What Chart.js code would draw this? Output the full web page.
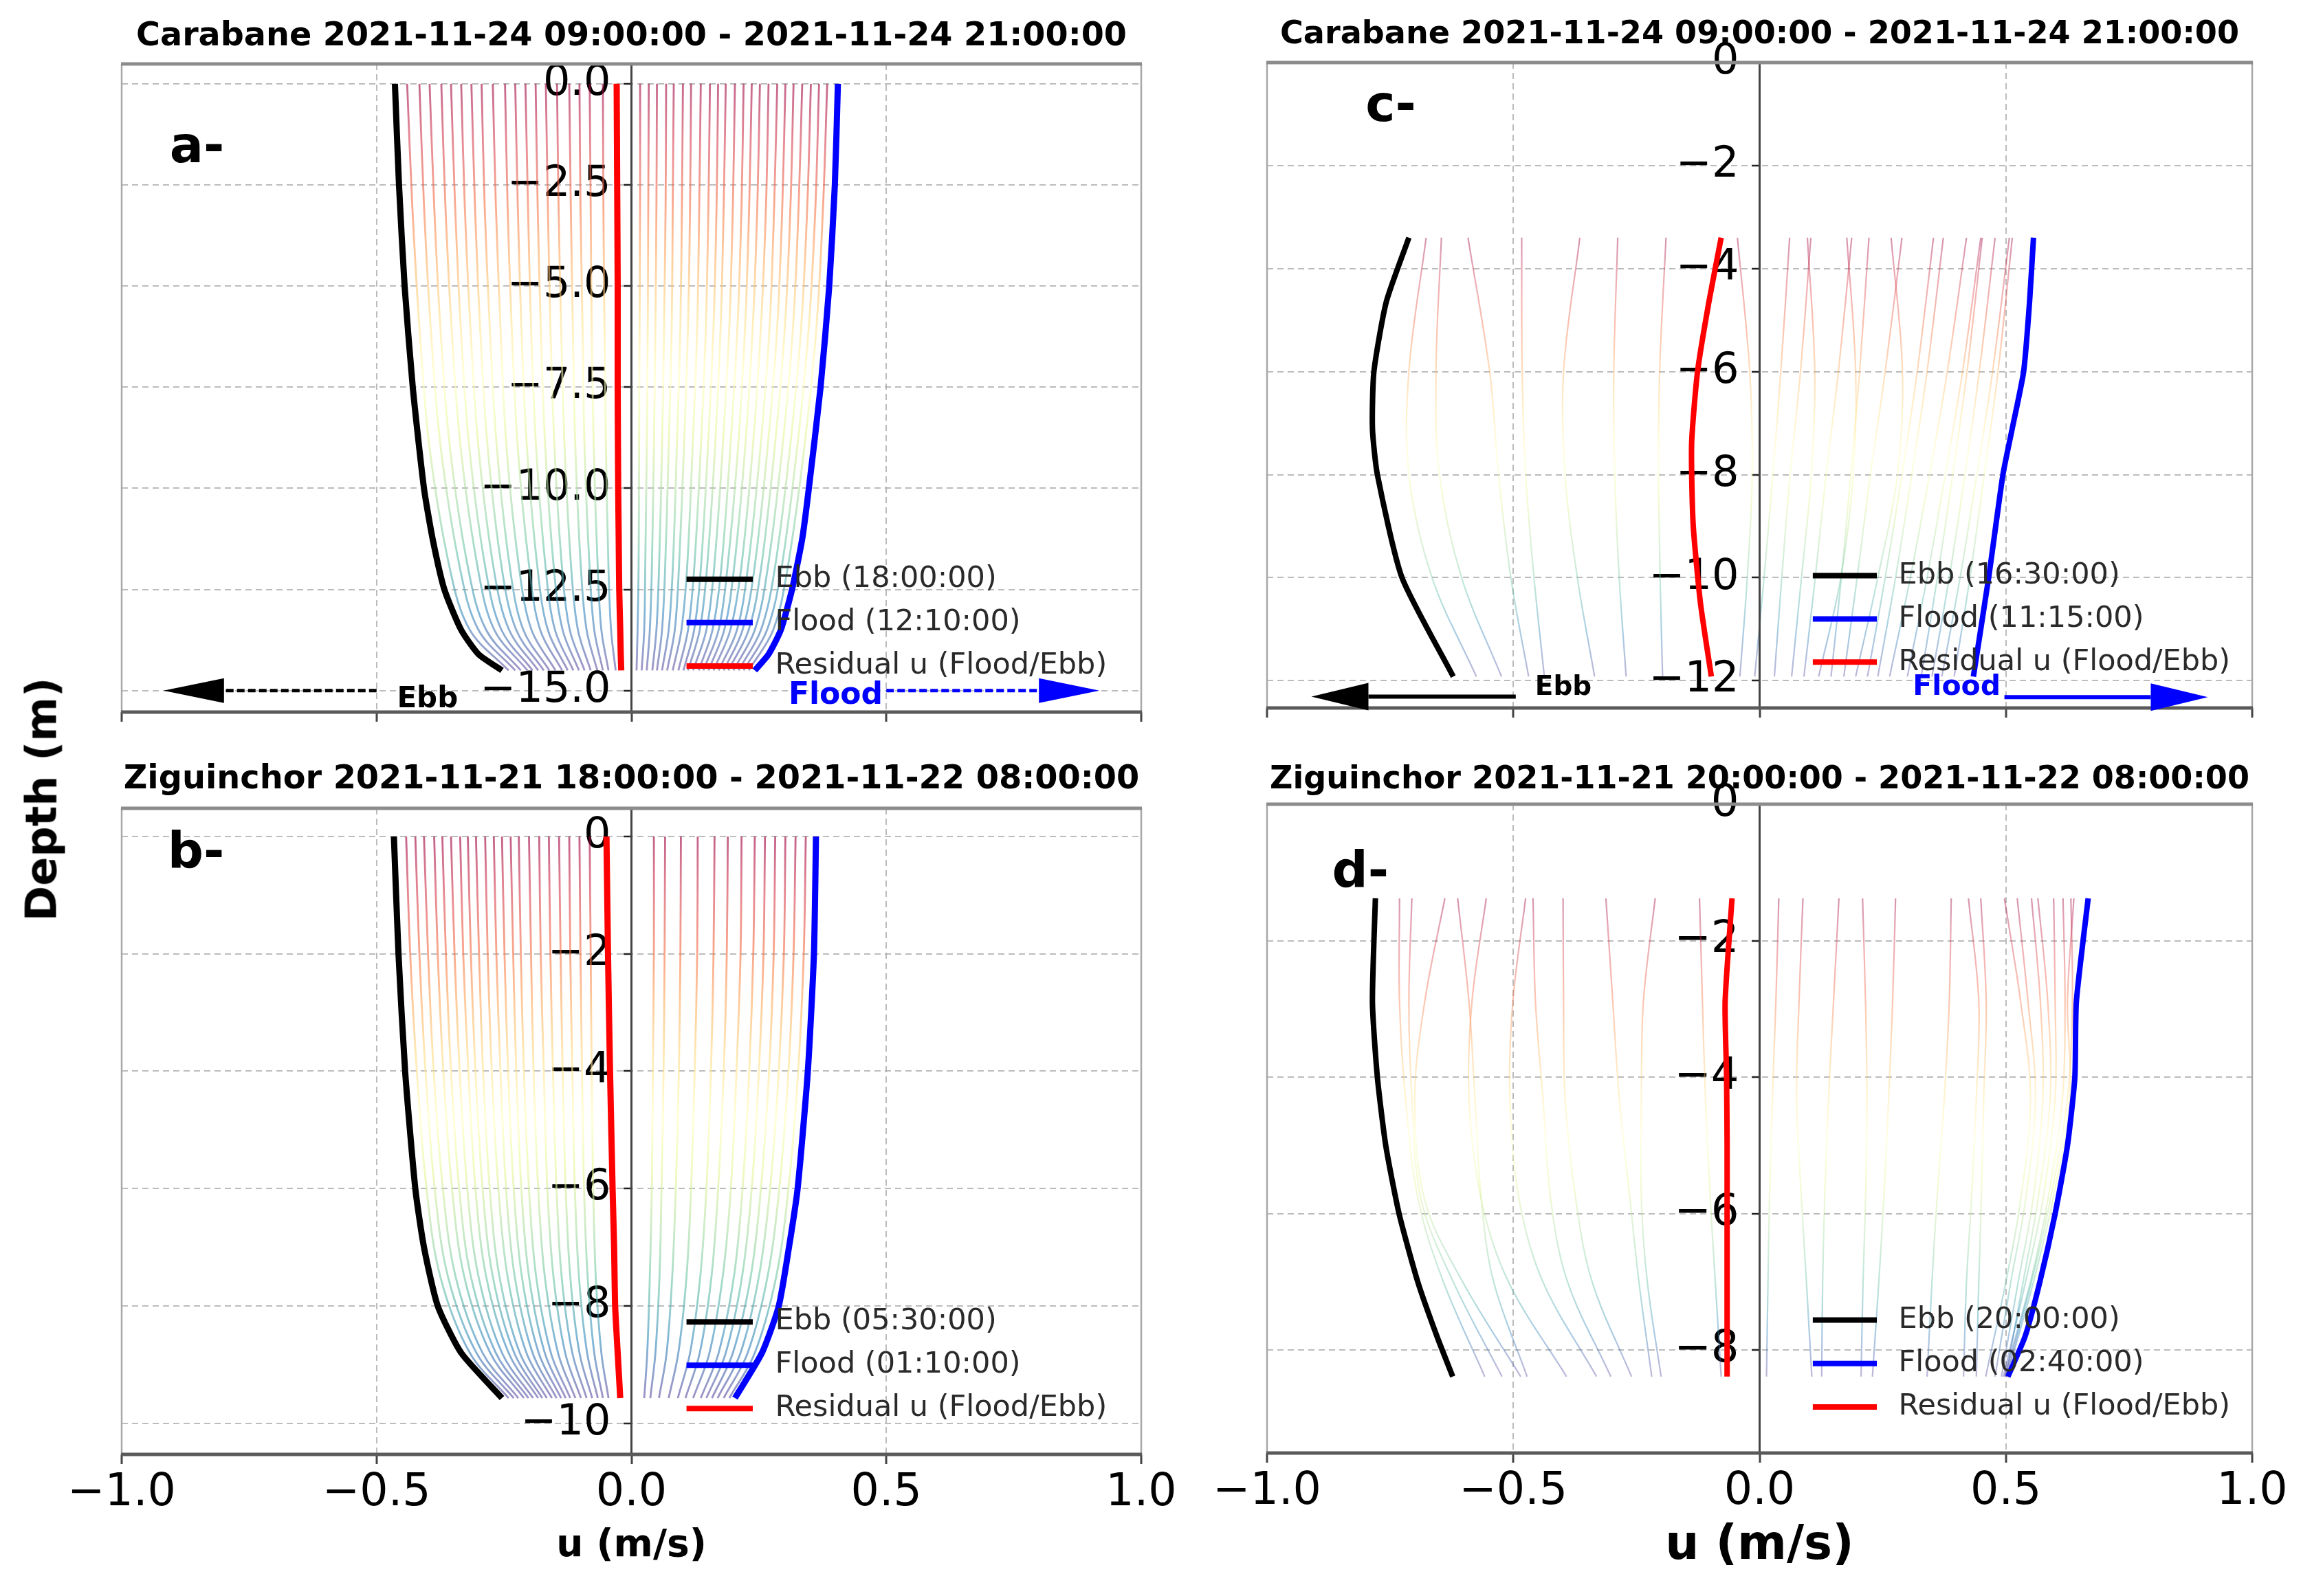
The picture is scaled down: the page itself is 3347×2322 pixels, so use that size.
<!DOCTYPE html>
<html>
<head>
<meta charset="utf-8">
<script src="https://cdn.jsdelivr.net/npm/chart.js@4.4.0/dist/chart.umd.min.js"></script>
<style>
html,body{margin:0;padding:0;background:#fff;}
body{width:3347px;height:2322px;position:relative;overflow:hidden;font-family:"DejaVu Sans";}
canvas{position:absolute;}
#ylab{position:absolute;left:60px;top:1163px;transform:translate(-50%,-50%) rotate(-90deg);font:bold 62px "DejaVu Sans";white-space:nowrap;color:#000;z-index:5;}
</style>
</head>
<body>
<canvas id="ca" width="1760" height="1080" style="left:0px;top:0px"></canvas>
<canvas id="cb" width="1760" height="1242" style="left:0px;top:1080px"></canvas>
<canvas id="cc" width="1587" height="1080" style="left:1760px;top:0px"></canvas>
<canvas id="cd" width="1587" height="1242" style="left:1760px;top:1080px"></canvas>
<div id="ylab">Depth (m)</div>
<script>
// ================= DATA =================
const xTicks = [-1, -0.5, 0, 0.5, 1];
const xTickLabels = ['\u22121.0', '\u22120.5', '0.0', '0.5', '1.0'];
const xAxisTitle = 'u (m/s)';

// ---------- panel a : Carabane ----------
const aTitle = 'Carabane 2021-11-24 09:00:00 - 2021-11-24 21:00:00';
const aLetter = 'a-';
const aLegend = ['Ebb (18:00:00)', 'Flood (12:10:00)', 'Residual u (Flood/Ebb)'];
const aYTicks = [0, -2.5, -5, -7.5, -10, -12.5, -15];
const aYTickLabels = ['0.0', '\u22122.5', '\u22125.0', '\u22127.5', '\u221210.0', '\u221212.5', '\u221215.0'];
const aMainDepth = [0, -2.5, -5, -7.5, -10, -11.25, -12.5, -13.5, -14.1, -14.5];
const aEbb      = [-0.464, -0.456, -0.445, -0.429, -0.407, -0.390, -0.367, -0.334, -0.300, -0.254];
const aFlood    = [0.405, 0.399, 0.388, 0.371, 0.348, 0.335, 0.315, 0.293, 0.269, 0.242];
const aResidual = [-0.029, -0.028, -0.027, -0.027, -0.026, -0.025, -0.024, -0.022, -0.021, -0.020];
const aProfileDepth = [0, -3, -6, -9, -12, -13.5, -14.5];
const aProfiles = [
  [-0.440, -0.430, -0.416, -0.396, -0.356, -0.317, -0.241],
  [-0.416, -0.407, -0.394, -0.374, -0.336, -0.300, -0.228],
  [-0.396, -0.387, -0.375, -0.356, -0.320, -0.285, -0.217],
  [-0.373, -0.365, -0.353, -0.335, -0.301, -0.269, -0.204],
  [-0.354, -0.346, -0.335, -0.318, -0.286, -0.255, -0.194],
  [-0.334, -0.327, -0.316, -0.300, -0.270, -0.240, -0.183],
  [-0.314, -0.307, -0.297, -0.282, -0.254, -0.226, -0.172],
  [-0.294, -0.288, -0.278, -0.264, -0.238, -0.212, -0.161],
  [-0.272, -0.266, -0.257, -0.245, -0.220, -0.196, -0.149],
  [-0.248, -0.243, -0.235, -0.223, -0.200, -0.179, -0.136],
  [-0.228, -0.223, -0.216, -0.205, -0.184, -0.164, -0.125],
  [-0.208, -0.203, -0.197, -0.187, -0.168, -0.150, -0.114],
  [-0.188, -0.184, -0.178, -0.169, -0.152, -0.135, -0.103],
  [-0.168, -0.164, -0.159, -0.151, -0.136, -0.121, -0.092],
  [-0.146, -0.143, -0.138, -0.131, -0.118, -0.105, -0.080],
  [-0.122, -0.119, -0.115, -0.110, -0.099, -0.088, -0.067],
  [-0.102, -0.100, -0.096, -0.092, -0.082, -0.073, -0.056],
  [-0.082, -0.080, -0.078, -0.074, -0.066, -0.059, -0.045],
  [-0.056, -0.055, -0.053, -0.050, -0.045, -0.040, -0.031],
  [0.017, 0.017, 0.016, 0.015, 0.014, 0.012, 0.010],
  [0.034, 0.033, 0.032, 0.030, 0.027, 0.025, 0.020],
  [0.050, 0.049, 0.047, 0.044, 0.040, 0.036, 0.030],
  [0.068, 0.067, 0.064, 0.060, 0.054, 0.049, 0.041],
  [0.083, 0.081, 0.079, 0.073, 0.066, 0.060, 0.050],
  [0.101, 0.099, 0.096, 0.089, 0.081, 0.073, 0.060],
  [0.117, 0.115, 0.111, 0.103, 0.093, 0.085, 0.070],
  [0.136, 0.133, 0.129, 0.120, 0.109, 0.098, 0.081],
  [0.154, 0.151, 0.146, 0.136, 0.123, 0.111, 0.092],
  [0.170, 0.167, 0.161, 0.150, 0.136, 0.123, 0.102],
  [0.185, 0.181, 0.175, 0.164, 0.148, 0.134, 0.111],
  [0.203, 0.199, 0.192, 0.179, 0.162, 0.147, 0.121],
  [0.220, 0.216, 0.208, 0.194, 0.176, 0.159, 0.132],
  [0.236, 0.231, 0.223, 0.209, 0.188, 0.171, 0.141],
  [0.252, 0.247, 0.238, 0.223, 0.201, 0.182, 0.151],
  [0.269, 0.264, 0.254, 0.238, 0.215, 0.194, 0.161],
  [0.286, 0.280, 0.271, 0.253, 0.228, 0.207, 0.171],
  [0.302, 0.296, 0.286, 0.267, 0.241, 0.218, 0.181],
  [0.318, 0.312, 0.301, 0.281, 0.254, 0.230, 0.190],
  [0.335, 0.328, 0.317, 0.296, 0.267, 0.242, 0.200],
  [0.352, 0.345, 0.333, 0.311, 0.281, 0.254, 0.210],
  [0.368, 0.361, 0.348, 0.325, 0.294, 0.266, 0.220],
  [0.384, 0.376, 0.363, 0.339, 0.306, 0.278, 0.230]
];

// ---------- panel b : Ziguinchor ----------
const bTitle = 'Ziguinchor 2021-11-21 18:00:00 - 2021-11-22 08:00:00';
const bLetter = 'b-';
const bLegend = ['Ebb (05:30:00)', 'Flood (01:10:00)', 'Residual u (Flood/Ebb)'];
const bYTicks = [0, -2, -4, -6, -8, -10];
const bYTickLabels = ['0', '\u22122', '\u22124', '\u22126', '\u22128', '\u221210'];
const bMainDepth = [0, -2, -4, -6, -7, -8, -8.8, -9.57];
const bEbb      = [-0.466, -0.457, -0.444, -0.424, -0.407, -0.380, -0.334, -0.254];
const bFlood    = [0.362, 0.358, 0.346, 0.326, 0.309, 0.289, 0.256, 0.203];
const bResidual = [-0.049, -0.046, -0.042, -0.037, -0.034, -0.032, -0.027, -0.022];
const bProfileDepth = [0, -2, -4, -6, -7.5, -8.8, -9.57];
const bProfiles = [
  [-0.442, -0.434, -0.421, -0.402, -0.375, -0.317, -0.241],
  [-0.424, -0.416, -0.404, -0.386, -0.360, -0.304, -0.231],
  [-0.407, -0.399, -0.388, -0.370, -0.345, -0.292, -0.222],
  [-0.387, -0.380, -0.369, -0.352, -0.328, -0.277, -0.211],
  [-0.371, -0.364, -0.354, -0.338, -0.315, -0.266, -0.202],
  [-0.354, -0.347, -0.337, -0.322, -0.300, -0.254, -0.193],
  [-0.336, -0.330, -0.320, -0.306, -0.285, -0.241, -0.183],
  [-0.321, -0.315, -0.306, -0.292, -0.272, -0.230, -0.175],
  [-0.305, -0.299, -0.291, -0.278, -0.259, -0.219, -0.166],
  [-0.287, -0.282, -0.274, -0.261, -0.243, -0.206, -0.156],
  [-0.270, -0.265, -0.257, -0.246, -0.229, -0.194, -0.147],
  [-0.254, -0.249, -0.242, -0.231, -0.215, -0.182, -0.138],
  [-0.237, -0.232, -0.226, -0.216, -0.201, -0.170, -0.129],
  [-0.221, -0.217, -0.211, -0.201, -0.187, -0.158, -0.120],
  [-0.201, -0.197, -0.192, -0.183, -0.170, -0.144, -0.110],
  [-0.181, -0.178, -0.172, -0.165, -0.153, -0.130, -0.099],
  [-0.162, -0.159, -0.154, -0.147, -0.137, -0.116, -0.088],
  [-0.142, -0.139, -0.135, -0.129, -0.120, -0.102, -0.077],
  [-0.122, -0.120, -0.116, -0.111, -0.103, -0.087, -0.066],
  [-0.102, -0.100, -0.097, -0.093, -0.086, -0.073, -0.056],
  [-0.082, -0.080, -0.078, -0.075, -0.070, -0.059, -0.045],
  [0.044, 0.044, 0.042, 0.040, 0.036, 0.031, 0.025],
  [0.066, 0.065, 0.063, 0.059, 0.055, 0.047, 0.037],
  [0.097, 0.096, 0.093, 0.087, 0.080, 0.069, 0.054],
  [0.130, 0.129, 0.124, 0.117, 0.108, 0.092, 0.073],
  [0.163, 0.161, 0.156, 0.147, 0.135, 0.115, 0.091],
  [0.189, 0.187, 0.181, 0.170, 0.157, 0.134, 0.106],
  [0.216, 0.214, 0.206, 0.195, 0.179, 0.153, 0.121],
  [0.242, 0.239, 0.231, 0.218, 0.201, 0.171, 0.136],
  [0.262, 0.259, 0.250, 0.236, 0.217, 0.185, 0.147],
  [0.282, 0.279, 0.270, 0.254, 0.234, 0.199, 0.158],
  [0.302, 0.299, 0.289, 0.272, 0.250, 0.214, 0.169],
  [0.322, 0.318, 0.308, 0.290, 0.267, 0.228, 0.181],
  [0.342, 0.338, 0.327, 0.308, 0.284, 0.242, 0.192]
];

// ---------- panel c : Carabane ----------
const cTitle = 'Carabane 2021-11-24 09:00:00 - 2021-11-24 21:00:00';
const cLetter = 'c-';
const cLegend = ['Ebb (16:30:00)', 'Flood (11:15:00)', 'Residual u (Flood/Ebb)'];
const cYTicks = [0, -2, -4, -6, -8, -10, -12];
const cYTickLabels = ['0', '\u22122', '\u22124', '\u22126', '\u22128', '\u221210', '\u221212'];
const cMainDepth = [-3.4, -4.65, -6, -7.1, -8, -10, -11.92];
const cEbb   = [-0.712, -0.758, -0.783, -0.786, -0.776, -0.726, -0.622];
const cFlood = [0.556, 0.548, 0.536, 0.513, 0.494, 0.465, 0.434];
const cResidualDepth = [-3.4, -4.65, -6, -7.4, -8.95, -10.5, -11.92];
const cResidual = [-0.078, -0.103, -0.126, -0.138, -0.135, -0.120, -0.098];
const cProfileDepth = [-3.4, -6, -8, -10, -11.92];
const cProfiles = [
  [-0.677, -0.712, -0.712, -0.665, -0.575],
  [-0.646, -0.657, -0.650, -0.605, -0.524],
  [-0.592, -0.548, -0.530, -0.505, -0.469],
  [-0.483, -0.482, -0.475, -0.458, -0.437],
  [-0.365, -0.398, -0.395, -0.370, -0.335],
  [-0.288, -0.296, -0.294, -0.285, -0.271],
  [-0.190, -0.203, -0.205, -0.202, -0.197],
  [-0.045, -0.020, -0.015, -0.025, -0.040],
  [0.061, 0.043, 0.027, 0.009, -0.010],
  [0.097, 0.112, 0.105, 0.085, 0.065],
  [0.104, 0.083, 0.062, 0.045, 0.030],
  [0.177, 0.195, 0.190, 0.165, 0.120],
  [0.187, 0.160, 0.135, 0.113, 0.090],
  [0.222, 0.203, 0.185, 0.166, 0.145],
  [0.267, 0.290, 0.280, 0.240, 0.195],
  [0.289, 0.255, 0.225, 0.198, 0.171],
  [0.353, 0.320, 0.289, 0.255, 0.219],
  [0.373, 0.340, 0.309, 0.276, 0.240],
  [0.420, 0.381, 0.345, 0.306, 0.264],
  [0.449, 0.412, 0.377, 0.340, 0.300],
  [0.452, 0.421, 0.392, 0.361, 0.328],
  [0.478, 0.446, 0.417, 0.385, 0.350],
  [0.507, 0.473, 0.441, 0.407, 0.370],
  [0.513, 0.484, 0.456, 0.427, 0.395]
];

// ---------- panel d : Ziguinchor ----------
const dTitle = 'Ziguinchor 2021-11-21 20:00:00 - 2021-11-22 08:00:00';
const dLetter = 'd-';
const dLegend = ['Ebb (20:00:00)', 'Flood (02:40:00)', 'Residual u (Flood/Ebb)'];
const dYTicks = [0, -2, -4, -6, -8];
const dYTickLabels = ['0', '\u22122', '\u22124', '\u22126', '\u22128'];
const dMainDepth = [-1.38, -2.9, -4.0, -5.0, -6.0, -7.0, -7.8, -8.39];
const dEbb      = [-0.780, -0.786, -0.776, -0.759, -0.732, -0.694, -0.655, -0.623];
const dFlood    = [0.667, 0.643, 0.640, 0.625, 0.600, 0.569, 0.539, 0.504];
const dResidual = [-0.056, -0.070, -0.067, -0.066, -0.066, -0.066, -0.066, -0.066];
const dProfileDepth = [-1.38, -2.9, -4.3, -5.8, -7.0, -8.39];
const dProfiles = [
  [-0.731, -0.731, -0.719, -0.693, -0.642, -0.558],
  [-0.706, -0.712, -0.706, -0.687, -0.622, -0.523],
  [-0.639, -0.680, -0.700, -0.680, -0.603, -0.485],
  [-0.613, -0.590, -0.578, -0.565, -0.540, -0.472],
  [-0.555, -0.584, -0.590, -0.565, -0.510, -0.392],
  [-0.475, -0.501, -0.507, -0.488, -0.440, -0.331],
  [-0.460, -0.455, -0.440, -0.424, -0.390, -0.302],
  [-0.399, -0.398, -0.395, -0.373, -0.340, -0.260],
  [-0.312, -0.298, -0.285, -0.263, -0.245, -0.219],
  [-0.212, -0.236, -0.240, -0.240, -0.228, -0.200],
  [-0.122, -0.116, -0.110, -0.100, -0.090, -0.078],
  [0.039, 0.033, 0.026, 0.020, 0.017, 0.014],
  [0.088, 0.080, 0.075, 0.085, 0.095, 0.106],
  [0.161, 0.150, 0.140, 0.132, 0.128, 0.126],
  [0.209, 0.215, 0.218, 0.215, 0.210, 0.206],
  [0.276, 0.270, 0.262, 0.252, 0.242, 0.229],
  [0.389, 0.385, 0.375, 0.360, 0.350, 0.340],
  [0.424, 0.445, 0.440, 0.430, 0.420, 0.414],
  [0.449, 0.460, 0.455, 0.450, 0.445, 0.440],
  [0.497, 0.530, 0.550, 0.530, 0.500, 0.459],
  [0.523, 0.545, 0.560, 0.540, 0.510, 0.478],
  [0.552, 0.570, 0.575, 0.555, 0.525, 0.491],
  [0.565, 0.585, 0.590, 0.565, 0.535, 0.500],
  [0.597, 0.600, 0.600, 0.575, 0.540, 0.495],
  [0.616, 0.620, 0.615, 0.585, 0.550, 0.497],
  [0.632, 0.635, 0.625, 0.590, 0.552, 0.500],
  [0.638, 0.625, 0.630, 0.595, 0.556, 0.502]
];

// ================= STYLE / LAYOUT =================
const SPECTRAL = ['158,1,66','213,62,79','244,109,67','253,174,97','254,224,139','255,255,191','230,245,152','171,221,164','102,194,165','50,136,189','94,79,162'];
const FONT = '"DejaVu Sans"';
const legendLayout = {x0: 0.554, x1: 0.619, tx: 0.641, rows: [0.795, 0.862, 0.929]};

const panels = [
  {id: 'ca', title: aTitle, titleWidth: 1441, titleY: 54, letter: aLetter, letterPos: [0.047, 0.152],
   legend: aLegend, yTicks: aYTicks, yLabels: aYTickLabels, yMin: -15.53, yMax: 0.49, yTickSize: 62,
   mainDepth: aMainDepth, floodDepth: aMainDepth, residualDepth: aMainDepth, ebb: aEbb, flood: aFlood, residual: aResidual,
   profileDepth: aProfileDepth, profiles: aProfiles, colorTop: 0, colorBottom: -14.5, alpha: 0.6, pWidth: 2.8, mainWidth: 9,
   padding: {left: 177, right: 100, top: 93, bottom: 24}, xAxisH: 20, showX: false,
   arrows: [
     {from: -0.50, to: -0.918, depth: -15.0, color: '#000000', width: 5, dash: [11, 5], headLen: 88, headHalf: 18},
     {from: 0.50, to: 0.918, depth: -15.0, color: '#0000ff', width: 5, dash: [11, 5], headLen: 88, headHalf: 18}],
   notes: [
     {text: 'Ebb', x: -0.46, depth: -15.22, color: '#000000', size: 42},
     {text: 'Flood', x: 0.308, depth: -15.14, color: '#0000ff', size: 44}]},
  {id: 'cb', title: bTitle, titleWidth: 1478, titleY: 55, letter: bLetter, letterPos: [0.045, 0.093],
   legend: bLegend, yTicks: bYTicks, yLabels: bYTickLabels, yMin: -10.53, yMax: 0.48, yTickSize: 62,
   mainDepth: bMainDepth, floodDepth: bMainDepth, residualDepth: bMainDepth, ebb: bEbb, flood: bFlood, residual: bResidual,
   profileDepth: bProfileDepth, profiles: bProfiles, colorTop: 0, colorBottom: -9.57, alpha: 0.62, pWidth: 2.8, mainWidth: 9,
   padding: {left: 177, right: 100, top: 96, bottom: 0}, xAxisH: 206, showX: true, xTitleSize: 55, xTitlePad: 39,
   arrows: [], notes: []},
  {id: 'cc', title: cTitle, titleWidth: 1395, titleY: 51, letter: cLetter, letterPos: [0.10, 0.09],
   legend: cLegend, yTicks: cYTicks, yLabels: cYTickLabels, yMin: -12.53, yMax: 0, yTickSize: 62,
   mainDepth: cMainDepth, floodDepth: cMainDepth, residualDepth: cResidualDepth, ebb: cEbb, flood: cFlood, residual: cResidual,
   profileDepth: cProfileDepth, profiles: cProfiles, colorTop: -3.4, colorBottom: -11.92, alpha: 0.42, pWidth: 2.2, mainWidth: 8,
   padding: {left: 83, right: 71, top: 91, bottom: 30}, xAxisH: 20, showX: false,
   arrows: [
     {from: -0.495, to: -0.91, depth: -12.31, color: '#000000', width: 6, dash: [], headLen: 83, headHalf: 20},
     {from: 0.497, to: 0.91, depth: -12.32, color: '#0000ff', width: 6, dash: [], headLen: 83, headHalf: 20}],
   notes: [
     {text: 'Ebb', x: -0.456, depth: -12.14, color: '#000000', size: 39},
     {text: 'Flood', x: 0.311, depth: -12.14, color: '#0000ff', size: 41}]},
  {id: 'cd', title: dTitle, titleWidth: 1425, titleY: 55, letter: dLetter, letterPos: [0.066, 0.128],
   legend: dLegend, yTicks: dYTicks, yLabels: dYTickLabels, yMin: -9.51, yMax: 0, yTickSize: 64,
   mainDepth: dMainDepth, floodDepth: dMainDepth, residualDepth: dMainDepth, ebb: dEbb, flood: dFlood, residual: dResidual,
   profileDepth: dProfileDepth, profiles: dProfiles, colorTop: -1.38, colorBottom: -8.39, alpha: 0.42, pWidth: 2.2, mainWidth: 8,
   padding: {left: 83, right: 71, top: 90, bottom: 0}, xAxisH: 208, showX: true, xTitleSize: 69, xTitlePad: 31,
   arrows: [], notes: []}
];

// ================= HELPERS =================
function pts(us, ds) { return us.map((u, i) => ({x: u, y: ds[i]})); }

function depthGradient(chart, P) {
  const area = chart.chartArea, ys = chart.scales.y;
  if (!area || !ys) return 'rgba(0,0,0,0)';
  const key = area.top + ':' + area.bottom;
  if (chart.$grad && chart.$gradKey === key) return chart.$grad;
  const y0 = ys.getPixelForValue(P.colorTop), y1 = ys.getPixelForValue(P.colorBottom);
  const g = chart.ctx.createLinearGradient(0, y0, 0, y1);
  SPECTRAL.forEach((c, i) => g.addColorStop(i / (SPECTRAL.length - 1), 'rgba(' + c + ',' + P.alpha + ')'));
  chart.$grad = g; chart.$gradKey = key;
  return g;
}

const decor = {
  id: 'decor',
  // y tick labels sit under the profile lines, left of the centred axis
  beforeDatasetsDraw(chart, args, o) {
    const P = o.panel;
    const ctx = chart.ctx, xs = chart.scales.x, ys = chart.scales.y;
    const x0 = xs.getPixelForValue(0) - 30;
    ctx.save();
    ctx.fillStyle = '#000'; ctx.font = P.yTickSize + 'px ' + FONT;
    ctx.textAlign = 'right'; ctx.textBaseline = 'middle';
    ys.ticks.forEach((t, i) => { ctx.fillText(P.yLabels[i], x0, ys.getPixelForValue(t.value)); });
    ctx.restore();
  },
  afterDraw(chart, args, o) {
    const P = o.panel;
    const ctx = chart.ctx, A = chart.chartArea, xs = chart.scales.x, ys = chart.scales.y;
    const W = A.right - A.left, H = A.bottom - A.top;
    ctx.save();
    // frame
    ctx.setLineDash([]);
    ctx.strokeStyle = '#a8a8a8'; ctx.lineWidth = 2.5;
    ctx.beginPath(); ctx.moveTo(A.left, A.top); ctx.lineTo(A.left, A.bottom);
    ctx.moveTo(A.right, A.top); ctx.lineTo(A.right, A.bottom); ctx.stroke();
    ctx.strokeStyle = '#8c8c8c'; ctx.lineWidth = 5;
    ctx.beginPath(); ctx.moveTo(A.left - 1, A.top); ctx.lineTo(A.right + 1, A.top); ctx.stroke();
    ctx.strokeStyle = '#5a5a5a'; ctx.lineWidth = 5;
    ctx.beginPath(); ctx.moveTo(A.left - 1, A.bottom); ctx.lineTo(A.right + 1, A.bottom); ctx.stroke();
    // title
    let size = 48;
    ctx.font = 'bold ' + size + 'px ' + FONT;
    size = size * P.titleWidth / ctx.measureText(P.title).width;
    ctx.font = 'bold ' + size.toFixed(2) + 'px ' + FONT;
    ctx.fillStyle = '#000'; ctx.textAlign = 'center'; ctx.textBaseline = 'middle';
    ctx.fillText(P.title, (A.left + A.right) / 2, P.titleY);
    // panel letter
    ctx.font = 'bold 73px ' + FONT; ctx.textAlign = 'left'; ctx.textBaseline = 'alphabetic';
    ctx.fillText(P.letter, A.left + P.letterPos[0] * W, A.top + P.letterPos[1] * H);
    // legend
    const cols = ['#000000', '#0000ff', '#ff0000'];
    P.legend.forEach((t, i) => {
      const y = A.top + legendLayout.rows[i] * H;
      ctx.strokeStyle = cols[i]; ctx.lineWidth = 8; ctx.lineCap = 'butt';
      ctx.beginPath(); ctx.moveTo(A.left + legendLayout.x0 * W, y); ctx.lineTo(A.left + legendLayout.x1 * W, y); ctx.stroke();
      ctx.fillStyle = '#2a2a2a'; ctx.font = '43px ' + FONT; ctx.textAlign = 'left'; ctx.textBaseline = 'middle';
      ctx.fillText(t, A.left + legendLayout.tx * W, y);
    });
    // arrows
    P.arrows.forEach(ar => {
      const x0 = xs.getPixelForValue(ar.from), x1 = xs.getPixelForValue(ar.to), y = ys.getPixelForValue(ar.depth);
      const dir = Math.sign(x1 - x0);
      const xb = x1 - dir * ar.headLen;
      ctx.strokeStyle = ar.color; ctx.fillStyle = ar.color; ctx.lineWidth = ar.width;
      ctx.setLineDash(ar.dash);
      ctx.beginPath(); ctx.moveTo(x0, y); ctx.lineTo(xb, y); ctx.stroke();
      ctx.setLineDash([]);
      ctx.beginPath(); ctx.moveTo(x1, y); ctx.lineTo(xb, y - ar.headHalf); ctx.lineTo(xb, y + ar.headHalf); ctx.closePath(); ctx.fill();
    });
    P.notes.forEach(n => {
      ctx.fillStyle = n.color; ctx.font = 'bold ' + n.size + 'px ' + FONT; ctx.textAlign = 'left'; ctx.textBaseline = 'middle';
      ctx.fillText(n.text, xs.getPixelForValue(n.x), ys.getPixelForValue(n.depth));
    });
    ctx.restore();
  }
};

// ================= CHARTS =================
panels.forEach(P => {
  const mainCommon = {pointRadius: 0, pointHoverRadius: 0, fill: false, tension: 0.2};
  const profCommon = {pointRadius: 0, pointHoverRadius: 0, fill: false, tension: 0.35};
  const datasets = [
    Object.assign({label: P.legend[0], data: pts(P.ebb, P.mainDepth), borderColor: '#000000', borderWidth: P.mainWidth, order: 0}, mainCommon),
    Object.assign({label: P.legend[1], data: pts(P.flood, P.floodDepth), borderColor: '#0000ff', borderWidth: P.mainWidth, order: 0}, mainCommon),
    Object.assign({label: P.legend[2], data: pts(P.residual, P.residualDepth), borderColor: '#ff0000', borderWidth: P.mainWidth, order: 0}, mainCommon)
  ];
  P.profiles.forEach((pr, k) => {
    datasets.push(Object.assign({label: 'profile ' + (k + 1), data: pts(pr, P.profileDepth),
      borderColor: (c) => depthGradient(c.chart, P), borderWidth: P.pWidth, order: 1}, profCommon));
  });
  const gridCol = 'rgba(165,165,165,0.75)';
  new Chart(document.getElementById(P.id), {
    type: 'line',
    data: {datasets},
    plugins: [decor],
    options: {
      responsive: false, animation: false, devicePixelRatio: 1,
      layout: {autoPadding: false, padding: P.padding},
      plugins: {legend: {display: false}, tooltip: {enabled: false}, title: {display: false}, decor: {panel: P}},
      scales: {
        x: {
          type: 'linear', min: -1, max: 1, position: 'bottom',
          afterBuildTicks: (s) => { s.ticks = xTicks.map(v => ({value: v})); },
          afterFit: (s) => { s.height = P.xAxisH; },
          ticks: {display: P.showX, autoSkip: false, maxRotation: 0, padding: 4,
                  callback: (v, i) => xTickLabels[i], color: '#000', font: {family: 'DejaVu Sans', size: 65}},
          grid: {color: gridCol, lineWidth: 2, drawTicks: true, tickLength: 14, tickColor: '#444', tickWidth: 3},
          border: {display: false, dash: [9, 6]},
          title: {display: P.showX, text: xAxisTitle, color: '#000',
                  font: {family: 'DejaVu Sans', size: P.xTitleSize || 55, weight: 'bold'},
                  padding: {top: 0, bottom: P.xTitlePad || 0}}
        },
        y: {
          type: 'linear', min: P.yMin, max: P.yMax, position: {x: 0},
          afterBuildTicks: (s) => { s.ticks = P.yTicks.map(v => ({value: v})); },
          ticks: {display: false, autoSkip: false, callback: (v, i) => P.yLabels[i]},
          grid: {color: gridCol, lineWidth: 2, drawTicks: true, tickLength: 10, tickColor: '#222', tickWidth: 2.5},
          border: {display: true, color: '#444', width: 3, dash: [9, 6], z: 1}
        }
      }
    }
  });
});
</script>
</body>
</html>
